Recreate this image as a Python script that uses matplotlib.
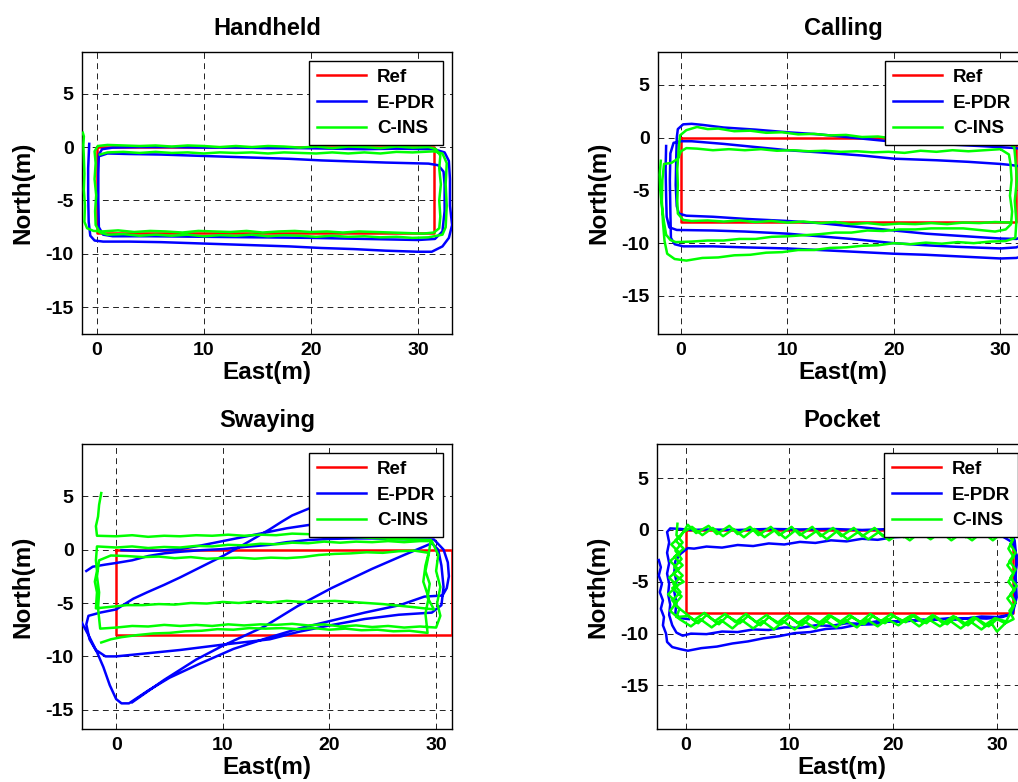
import numpy as np
import matplotlib.pyplot as plt

plt.rcParams['font.family'] = ['Liberation Sans', 'DejaVu Sans']
plt.rcParams['font.weight'] = 'bold'
plt.rcParams['axes.unicode_minus'] = False

# Trayectoria de referencia (rectangulo del pasillo)
ref_x = [0, 31.5, 31.5, 0, 0]
ref_y = [0, 0, -8, -8, 0]

titles = ['Handheld', 'Calling', 'Swaying', 'Pocket']
labels = ['Ref', 'E-PDR', 'C-INS']

# ---- Handheld ----
hand_pdr = [
    (-0.7, 0.3), (-0.8, -2.0), (-0.8, -4.5), (-0.75, -7.0), (-0.6, -8.3), (-0.2, -8.75), (0.6, -8.85),
    (3, -8.85), (6, -8.9), (9, -9.0), (12, -9.1), (15, -9.2), (18, -9.3), (21, -9.45), (24, -9.55),
    (27, -9.7), (30, -9.8), (31.3, -9.8), (32.3, -9.3), (32.9, -8.5), (33.2, -7.3), (33.0, -5.5),
    (33.0, -3.0), (32.9, -1.3), (32.5, -0.5), (31.5, -0.2), (28, -0.15), (25, -0.2), (22, -0.15),
    (19, -0.1), (16, -0.1), (13, -0.05), (10, -0.05), (7, 0.0), (4, 0.0), (1.5, -0.05), (0.5, -0.2),
    (0.2, -0.7), (0.15, -2.5), (0.15, -5.0), (0.2, -7.5), (0.6, -8.2), (1.5, -8.35), (5, -8.35),
    (10, -8.4), (15, -8.45), (20, -8.5), (25, -8.6), (30, -8.7), (31.6, -8.6), (32.3, -7.9),
    (32.5, -6.0), (32.5, -3.5), (32.4, -2.3), (31.9, -1.7), (31.0, -1.55), (27, -1.45), (24, -1.35),
    (21, -1.25), (18, -1.1), (15, -1.0), (12, -0.9), (9, -0.8), (6, -0.7), (3, -0.65), (1.0, -0.6),
    (0.4, -0.8),
]
hand_ins = [
    (-1.3, 1.35), (-1.2, 1.0), (-1.25, 0.2), (-1.2, -1.0), (-1.15, -2.5), (-1.2, -4.0), (-1.1, -5.5),
    (-1.15, -7.0), (-0.9, -7.6), (-0.3, -7.85), (0.5, -7.9), (2, -7.8), (3.5, -7.95), (5, -7.85),
    (6.5, -7.9), (8, -8.0), (9.5, -7.85), (11, -7.9), (12.5, -7.95), (14, -7.85), (15.5, -8.0),
    (17, -7.9), (18.5, -7.85), (20, -7.95), (21.5, -7.9), (23, -8.0), (24.5, -7.9), (26, -7.95),
    (27.5, -8.0), (29, -8.05), (30.5, -8.1), (31.5, -8.0), (32.0, -7.6), (32.1, -6.5), (32.0, -5.0),
    (32.15, -3.5), (32.0, -2.0), (32.1, -0.8), (31.7, -0.2), (31.0, 0.0), (29.5, -0.05), (28, 0.05),
    (26.5, -0.1), (25, 0.0), (23.5, 0.05), (22, -0.1), (20.5, 0.05), (19, -0.05), (17.5, 0.05),
    (16, 0.1), (14.5, 0.0), (13, 0.1), (11.5, 0.0), (10, 0.1), (8.5, 0.15), (7, 0.05), (5.5, 0.15),
    (4, 0.1), (2.5, 0.15), (1, 0.2), (0.1, 0.1), (-0.2, -0.4), (-0.1, -1.5), (-0.2, -3.0),
    (-0.05, -4.5), (-0.15, -6.0), (-0.1, -7.3), (0.3, -8.0), (1, -8.2), (2.5, -8.15), (4, -8.3),
    (5.5, -8.2), (7, -8.3), (8.5, -8.2), (10, -8.35), (11.5, -8.25), (13, -8.3), (14.5, -8.2),
    (16, -8.35), (17.5, -8.25), (19, -8.3), (20.5, -8.4), (22, -8.3), (23.5, -8.4), (25, -8.35),
    (26.5, -8.45), (28, -8.4), (29.5, -8.5), (31, -8.45), (32.3, -8.2), (32.6, -7.5), (32.7, -5.5),
    (32.6, -3.5), (32.7, -1.5), (32.3, -0.6), (31.5, -0.4), (29.5, -0.5), (28, -0.45), (26.5, -0.6),
    (25, -0.5), (23.5, -0.6), (22, -0.5), (20.5, -0.6), (19, -0.55), (17.5, -0.5), (16, -0.6),
    (14.5, -0.5), (13, -0.55), (11.5, -0.5), (10, -0.6), (8.5, -0.5), (7, -0.55), (5.5, -0.45),
    (4, -0.55), (2.5, -0.45), (1, -0.5), (0.3, -0.7),
]

# ---- Calling ----
call_pdr = [
    (-1.4, -0.8), (-1.45, -3), (-1.4, -5.5), (-1.35, -7.5), (-1.1, -8.5), (-0.4, -8.75), (3, -8.8),
    (6, -8.9), (10, -9.1), (13, -9.35), (16, -9.6), (20, -10.0), (23, -10.2), (26, -10.35),
    (30, -10.5), (31.5, -10.4), (32.8, -9.8), (33.2, -8), (33.2, -3), (32.8, -1.3), (31.5, -1.0),
    (28, -0.8), (24, -0.6), (20, -0.4), (16, 0.0), (13, 0.3), (10, 0.5), (7, 0.75), (4, 0.95),
    (2, 1.2), (1, 1.3), (0.2, 1.25), (-0.3, 0.8), (-0.4, 0), (-0.45, -2), (-0.5, -4.5), (-0.4, -6.5),
    (-0.2, -7.2), (0.5, -7.4), (3, -7.5), (6, -7.7), (10, -7.9), (13, -8.1), (16, -8.4), (20, -8.8),
    (23, -9.1), (26, -9.3), (30, -9.56), (31.5, -9.6), (32.6, -9.2), (33.0, -7.5), (33.0, -4),
    (32.4, -2.8), (31, -2.6), (30, -2.5), (27, -2.3), (24, -2.15), (20, -2.0), (17, -1.7),
    (13, -1.4), (10, -1.2), (7, -0.9), (4, -0.6), (1, -0.35), (0, -0.35), (-0.7, -0.5), (-1.0, -1.5),
    (-1.05, -4), (-1.0, -7), (-0.95, -9.5), (-0.6, -10.1), (0.2, -10.3), (3, -10.3), (6, -10.4),
    (10, -10.5), (13, -10.65), (16, -10.8), (20, -11.0), (23, -11.1), (26, -11.25), (30, -11.45),
    (31.5, -11.4), (32.8, -11.0),
]
call_ins = [
    (-1.9, -2.2), (-2.0, -3.5), (-1.95, -5), (-1.8, -6.5), (-1.6, -8), (-1.4, -9.2), (-1.0, -9.7),
    (-0.5, -9.9), (1, -9.85), (2.5, -9.75), (4, -9.75), (5.5, -9.6), (7, -9.6), (8.5, -9.4),
    (10, -9.35), (11.5, -9.25), (13, -9.15), (14.5, -9.0), (16, -9.0), (17.5, -8.8), (19, -8.85),
    (20.5, -8.7), (22, -8.7), (23.5, -8.6), (25, -8.6), (26.5, -8.6), (28, -8.75), (29.5, -8.9),
    (30.5, -8.7), (31.0, -8.2), (31.1, -7), (30.9, -5.5), (31.05, -4), (30.95, -2.5), (30.8, -1.6),
    (30, -1.1), (28.5, -1.2), (27, -1.3), (25.5, -1.2), (24, -1.35), (22.5, -1.25), (21, -1.45),
    (19.5, -1.35), (18, -1.4), (16.5, -1.3), (15, -1.35), (13.5, -1.25), (12, -1.3), (10.5, -1.2),
    (9, -1.25), (7.5, -1.1), (6, -1.2), (4.5, -1.1), (3, -1.2), (1.5, -1.05), (0.5, -1.0),
    (0, -1.3), (-0.3, -2.0), (-0.9, -2.4), (-1.6, -2.5), (-1.75, -4), (-1.8, -6), (-1.7, -8),
    (-1.55, -9.8), (-1.3, -11), (-0.6, -11.5), (0.5, -11.65), (2, -11.4), (3.5, -11.35), (5, -11.15),
    (6.5, -11.1), (8, -10.9), (9.5, -10.85), (11, -10.65), (12.5, -10.65), (14, -10.45),
    (15.5, -10.4), (17, -10.25), (18.5, -10.2), (20, -10.0), (21.5, -10.1), (23, -9.95),
    (24.5, -10.05), (26, -9.9), (27.5, -10.0), (29, -9.85), (30.5, -9.8), (31.4, -9.5), (31.5, -8),
    (31.35, -6), (31.55, -4), (31.4, -2), (31.3, -0.9), (30.5, -0.4), (29, -0.35), (27.5, -0.2),
    (26, -0.25), (24.5, -0.05), (23, -0.15), (21.5, 0.0), (20, -0.1), (18.5, 0.1), (17, 0.05),
    (15.5, 0.25), (14, 0.2), (12.5, 0.35), (11, 0.3), (9.5, 0.5), (8, 0.45), (6.5, 0.65),
    (5, 0.6), (3.5, 0.85), (2.5, 0.8), (1.5, 1.0), (0.5, 0.7), (-0.1, 0.2), (-0.25, -1.5),
    (-0.35, -3), (-0.3, -4.5), (-0.35, -6), (-0.3, -7.2), (0.2, -7.8), (1, -7.9), (2.5, -7.85),
    (4, -7.95), (5.5, -7.85), (7, -8.0), (8.5, -7.9), (10, -8.05), (11.5, -7.95), (13, -8.1),
    (14.5, -8.0), (16, -8.2), (17.5, -8.1), (19, -8.25), (20.5, -8.15), (22, -8.2), (23.5, -8.1),
    (25, -8.2), (26.5, -8.05), (28, -8.1), (29.5, -8.0), (31, -8.05),
]

# ---- Swaying ----
sway_pdr = [
    (-2.8, -2.0), (-2.2, -1.6), (-1, -1.4), (0, -1.25), (1.5, -1.0), (3, -0.6), (4.5, -0.35),
    (6, -0.2), (8, -0.05), (10, 0.05), (12, 0.25), (14.4, 0.45), (16, 0.7), (18, 0.9), (20, 1.0),
    (22, 1.05), (24, 1.05), (26, 1.0), (28, 0.95), (29.8, 0.95), (30.7, 0.0), (31.1, -1.2),
    (31.2, -2.5), (31.0, -3.6), (30.6, -4.3), (28.9, -4.4), (26.6, -5.2), (23.3, -5.9), (20, -6.7),
    (17.1, -7.4), (14.1, -8.3), (11, -9.3), (7.8, -10.7), (5, -12.0), (3, -13.2), (1.8, -14.0),
    (1.2, -14.4), (0.5, -14.4), (0, -14.0), (-0.6, -12.7), (-1.2, -11.0), (-1.8, -9.6),
    (-2.5, -8.4), (-2.8, -7.0), (-2.6, -6.2), (-1.5, -5.9), (0, -5.6), (1.6, -4.6), (2.9, -4.0),
    (4.5, -3.3), (6, -2.6), (8, -1.6), (10, -0.6), (12, 0.5), (14.4, 1.9), (15.5, 2.6), (16.5, 3.2),
    (18.2, 3.9), (19.5, 4.4), (21, 4.8), (22.5, 3.5), (21, 2.6), (18, 2.3), (16, 2.0), (14, 1.6),
    (12, 1.2), (10, 0.8), (8, 0.4), (6, 0.05), (4, -0.1), (2, -0.1), (0.5, -0.05),
    (np.nan, np.nan),
    (-3.3, -6.7), (-2.6, -8.0), (-1.9, -9.4), (-1.0, -10.0), (0, -10.0), (3, -9.7), (6, -9.4),
    (10, -8.9), (14.4, -8.4), (17.1, -7.7), (20, -7.1), (23.3, -6.5), (26.5, -6.1), (29.6, -5.9),
    (30.5, -5.2), (30.7, -3.5), (30.5, -1.5), (30.2, 0.0), (29.6, 0.6), (27, -0.5), (24, -1.8),
    (20.2, -3.6), (17, -5.3), (13.9, -7.2), (10, -9.0), (7.5, -10.3), (4.5, -12.2), (2.5, -13.6),
    (1.5, -14.3),
]
sway_ins = [
    (-1.4, 5.3), (-1.6, 4.2), (-1.7, 3.1), (-1.9, 2.2), (-1.8, 1.3), (0, 1.25), (1.5, 1.35),
    (3, 1.2), (4.5, 1.3), (6, 1.25), (7.5, 1.35), (9, 1.3), (10.5, 1.4), (12, 1.3), (13.5, 1.4),
    (15, 1.35), (16.5, 1.5), (18, 1.45), (20, 1.3), (22, 1.2), (24, 1.1), (26, 1.0), (28, 0.95),
    (29.5, 0.9), (29.3, -0.5), (29.0, -2.0), (29.4, -3.2), (29.2, -4.5), (29.8, -5.6), (28, -5.4),
    (26.5, -5.25), (25, -5.1), (23.5, -5.0), (22, -4.9), (20.5, -4.8), (19, -4.85), (17.5, -4.9),
    (16, -4.8), (14.5, -4.95), (13, -4.85), (11.5, -5.0), (10, -4.9), (8.5, -5.05), (7, -5.0),
    (5.5, -5.15), (4, -5.1), (2.5, -5.2), (1, -5.2), (0, -5.3), (-1.9, -5.5), (-1.8, -4.0),
    (-2.0, -3.0), (-1.8, -2.0), (-1.9, -1.0), (-1.8, 0.3), (0, 0.2), (1.5, 0.3), (3, 0.15),
    (4.5, 0.25), (6, 0.2), (7.5, 0.35), (9, 0.3), (10.5, 0.45), (12, 0.4), (13.5, 0.55),
    (15, 0.5), (16.5, 0.65), (18, 0.6), (19.5, 0.75), (21, 0.65), (22.5, 0.75), (24, 0.7),
    (25.5, 0.8), (27, 0.7), (28.5, 0.8), (29.6, 0.8), (30.2, -0.5), (30.0, -2.0), (30.4, -3.5),
    (30.1, -5.0), (30.4, -6.2), (30.0, -7.3), (28.5, -7.2), (27, -7.3), (25.5, -7.15),
    (24, -7.25), (22.5, -7.1), (21, -7.2), (19.5, -7.0), (18, -7.1), (16.5, -6.95), (15, -7.05),
    (13.5, -7.0), (12, -7.1), (10.5, -7.0), (9, -7.15), (7.5, -7.05), (6, -7.15), (4.5, -7.05),
    (3, -7.2), (1.5, -7.15), (0, -7.3), (-1.5, -7.4), (-1.7, -5.5), (-1.6, -4.0), (-1.8, -2.5),
    (-1.6, -1.0), (-0.5, -0.55), (1, -0.6), (2.5, -0.7), (4, -0.65), (5.5, -0.8), (7, -0.7),
    (8.5, -0.85), (10, -0.8), (11.5, -0.75), (13, -0.85), (14.5, -0.75), (16, -0.8), (17.5, -0.7),
    (19, -0.5), (20.5, -0.4), (22, -0.35), (23.5, -0.25), (25, -0.3), (26.5, -0.15), (28, -0.1),
    (29.3, -0.3), (29.0, -1.5), (28.8, -3.0), (29.3, -4.5), (29.0, -6.0), (29.2, -7.8),
    (27.5, -7.6), (26, -7.65), (24.5, -7.5), (23, -7.55), (21.5, -7.4), (20, -7.5), (18.5, -7.35),
    (17, -7.45), (15.5, -7.35), (14, -7.4), (12.5, -7.35), (11, -7.5), (9.5, -7.45), (8, -7.6),
    (6.5, -7.65), (5, -7.8), (3.5, -7.85), (2, -8.0), (0.5, -8.2), (-0.5, -8.4), (-1.4, -8.7),
]

# ---- Pocket ----
pock_pdr = [
    (-2.6, -2.9), (-2.4, -3.6), (-2.6, -4.4), (-2.3, -5.2), (-2.5, -6.0), (-2.2, -6.8),
    (-2.4, -7.6), (-2.1, -8.4), (-2.2, -9.2), (-1.9, -10.0), (-1.8, -10.8), (-1.3, -11.3),
    (-0.5, -11.5), (0.2, -11.65), (1.5, -11.4), (3, -11.25), (4.5, -10.95), (6, -10.75),
    (7.5, -10.45), (9, -10.25), (10.5, -9.95), (12, -9.85), (13.5, -9.55), (15, -9.45),
    (16.5, -9.15), (18, -9.1), (19.5, -8.85), (21, -8.85), (22.5, -8.65), (24, -8.65),
    (25.5, -8.5), (27, -8.55), (28.5, -8.35), (30, -8.4), (31.2, -8.2), (31.8, -7.0), (31.7, -5.0),
    (31.9, -3.0), (31.7, -1.0), (31.3, -0.2), (29, 0.05), (26, 0.1), (23, 0.0), (20, 0.1), (17, 0.0),
    (14, 0.1), (11, 0.05), (8, 0.1), (5, 0.0), (2, 0.05), (0.5, 0.0), (-0.5, 0.1), (-1.5, 0.15),
    (-1.8, -0.2), (-1.6, -1.2), (-1.8, -2.2), (-1.6, -3.2), (-1.8, -4.2), (-1.6, -5.2),
    (-1.7, -6.2), (-1.5, -7.2), (-1.6, -8.2), (-1.3, -9.2), (-0.9, -9.9), (-0.3, -10.2),
    (0.5, -10.0), (2, -10.05), (3.5, -9.8), (5, -9.85), (6.5, -9.6), (8, -9.65), (9.5, -9.4),
    (11, -9.45), (12.5, -9.2), (14, -9.25), (15.5, -9.0), (17, -9.05), (18.5, -8.8), (20, -8.85),
    (21.5, -8.7), (23, -8.75), (24.5, -8.6), (26, -8.65), (27.5, -8.5), (29, -8.55), (30.5, -8.4),
    (31.5, -8.1), (31.9, -6.5), (31.8, -4.5), (31.9, -2.5), (31.5, -1.2), (30.5, -0.6),
    (28, -0.45), (25, -0.55), (22, -0.6), (20, -0.7), (18.5, -0.95), (17, -0.85), (15.5, -1.1),
    (14, -1.0), (12.5, -1.25), (11, -1.15), (9.5, -1.4), (8, -1.3), (6.5, -1.55), (5, -1.45),
    (3.5, -1.7), (2, -1.6), (0.8, -1.8), (0.2, -1.75), (-0.5, -2.3), (-1.0, -3.0), (-1.1, -4.0),
    (-0.9, -5.0), (-1.1, -6.0), (-0.9, -7.0), (-1.0, -8.0), (-0.6, -8.5), (0.3, -8.6),
]
pock_ins = [
    (-0.8, 0.6), (-0.9, -0.5), (-0.3, -1.2), (-1.0, -2.0), (-0.4, -2.8), (-1.1, -3.6), (-0.3, -4.4),
    (-1.2, -5.2), (-0.5, -6.0), (-1.3, -6.8), (-0.6, -7.6), (-0.9, -8.4), (0.2, -8.3), (1.2, -9.0),
    (2.0, -8.2), (3.2, -9.1), (4.0, -8.3), (5.2, -9.0), (6.0, -8.3), (7.2, -9.2), (8.0, -8.4),
    (9.2, -9.1), (10.0, -8.4), (11.2, -9.2), (12.0, -8.4), (13.2, -9.1), (14.0, -8.3), (15.2, -9.0),
    (16.0, -8.4), (17.2, -9.1), (18.0, -8.3), (19.2, -9.0), (20.0, -8.3), (21.2, -8.9), (22.0, -8.2),
    (23.2, -9.0), (24.0, -8.3), (25.2, -9.1), (26.0, -8.4), (27.2, -9.2), (28.0, -8.5), (29.2, -9.3),
    (30.0, -8.6), (30.8, -9.0), (31.2, -8.2), (31.6, -7.4), (31.0, -6.6), (31.7, -5.8), (31.1, -5.0),
    (31.6, -4.2), (31.0, -3.4), (31.6, -2.6), (31.1, -1.8), (31.5, -1.0), (31.0, -0.3), (30.2, 0.2),
    (29.0, -0.6), (28.2, 0.1), (27.0, -0.7), (26.2, 0.1), (25.0, -0.6), (24.2, 0.2), (23.0, -0.6),
    (22.2, 0.1), (21.0, -0.7), (20.2, 0.1), (19.0, -0.6), (18.2, 0.2), (17.0, -0.6), (16.2, 0.2),
    (15.0, -0.6), (14.2, 0.2), (13.0, -0.6), (12.2, 0.3), (11.0, -0.5), (10.2, 0.3), (9.0, -0.5),
    (8.2, 0.3), (7.0, -0.5), (6.2, 0.3), (5.0, -0.4), (4.2, 0.4), (3.0, -0.4), (2.2, 0.4),
    (1.0, -0.3), (0.2, 0.5), (-0.5, -0.6), (-1.4, -1.4), (-0.6, -2.2), (-1.5, -3.0), (-0.7, -3.8),
    (-1.6, -4.6), (-0.8, -5.4), (-1.7, -6.2), (-0.9, -7.0), (-1.5, -7.8), (-0.6, -8.6), (0.5, -9.3),
    (1.4, -8.6), (2.5, -9.4), (3.4, -8.7), (4.5, -9.5), (5.4, -8.7), (6.5, -9.5), (7.4, -8.8),
    (8.5, -9.6), (9.4, -8.8), (10.5, -9.6), (11.4, -8.8), (12.5, -9.5), (13.4, -8.7), (14.5, -9.4),
    (15.4, -8.7), (16.5, -9.4), (17.4, -8.6), (18.5, -9.3), (19.4, -8.6), (20.5, -9.2), (21.4, -8.5),
    (22.5, -9.3), (23.4, -8.6), (24.5, -9.3), (25.4, -8.7), (26.5, -9.5), (27.4, -8.8), (28.5, -9.6),
    (29.4, -8.9), (30.0, -9.8), (30.8, -9.0), (31.6, -8.6), (31.2, -7.8), (31.8, -7.0), (31.3, -6.2),
    (31.9, -5.4), (31.3, -4.6), (31.8, -3.8), (31.2, -3.0), (31.8, -2.2), (31.3, -1.4), (31.6, -0.6),
    (30.6, -0.2), (29.6, -1.0), (28.6, -0.2), (27.6, -1.0), (26.6, -0.3), (25.6, -1.0), (24.6, -0.2),
    (23.6, -0.9), (22.6, -0.2), (21.6, -1.0), (20.6, -0.3), (19.6, -1.0), (18.6, -0.2), (17.6, -0.9),
    (16.6, -0.2), (15.6, -0.9), (14.6, -0.1), (13.6, -0.9), (12.6, -0.1), (11.6, -0.8), (10.6, 0.0),
    (9.6, -0.8), (8.6, 0.0), (7.6, -0.7), (6.6, 0.1), (5.6, -0.7), (4.6, 0.1), (3.6, -0.6),
    (2.6, 0.2), (1.6, -0.5), (0.6, 0.3), (-0.2, -0.2), (-1.0, -1.0), (-0.2, -1.8), (-1.1, -2.6),
    (-0.3, -3.4), (-1.2, -4.2), (-0.2, -5.0), (-1.3, -5.6), (-0.4, -6.4), (-1.1, -7.2), (-0.2, -7.9),
    (0.8, -8.7), (1.8, -8.0), (2.8, -8.8), (3.8, -8.1), (4.8, -8.9), (5.8, -8.1), (6.8, -8.9),
    (7.8, -8.2), (8.8, -9.0), (9.8, -8.2), (10.8, -9.0), (11.8, -8.3), (12.8, -9.0), (13.8, -8.2),
    (14.8, -8.9), (15.8, -8.2), (16.8, -8.9), (17.8, -8.1), (18.8, -8.8), (19.8, -8.1), (20.8, -8.8),
    (21.8, -8.2), (22.8, -8.9), (23.8, -8.2), (24.8, -9.0), (25.8, -8.3), (26.8, -9.1), (27.8, -8.4),
    (28.8, -9.2), (29.8, -8.5), (30.8, -8.8),
]

# Limites de ejes
xlims = [(-1.37, 33.2), (-2.16, 32.6), (-3.2, 31.5), (-2.77, 32.9)]
ylims = [(-17.5, 8.9), (-18.6, 8.1), (-16.8, 9.9), (-19.2, 8.3)]
# posiciones [izq, abajo, ancho, alto] en fraccion de figura
posiciones = [
    [0.0806, 0.5729, 0.3635, 0.3606],
    [0.6464, 0.5729, 0.3635, 0.3606],
    [0.0806, 0.0678, 0.3635, 0.3645],
    [0.6454, 0.0678, 0.3635, 0.3645],
]
datos = [(hand_pdr, hand_ins), (call_pdr, call_ins), (sway_pdr, sway_ins), (pock_pdr, pock_ins)]

fig = plt.figure(figsize=(10.18, 7.82), dpi=100)

for i in range(4):
    ax = fig.add_axes(posiciones[i])
    pdr = np.array(datos[i][0], dtype=float)
    ins = np.array(datos[i][1], dtype=float)
    ax.plot(ref_x, ref_y, color='#ff0000', lw=1.8, label=labels[0], zorder=3)
    ax.plot(pdr[:, 0], pdr[:, 1], color='#0000ff', lw=1.8, label=labels[1], zorder=4)
    ax.plot(ins[:, 0], ins[:, 1], color='#00ff00', lw=1.8, label=labels[2], zorder=5)

    ax.set_xlim(xlims[i])
    ax.set_ylim(ylims[i])
    ax.set_xticks([0, 10, 20, 30])
    ax.set_yticks([-15, -10, -5, 0, 5])
    ax.grid(True, color='#222222', linestyle=(0, (6, 4.5)), linewidth=0.7)
    ax.tick_params(direction='in', length=0, labelsize=14, pad=6)
    for lab in ax.get_xticklabels() + ax.get_yticklabels():
        lab.set_fontweight('bold')
    for sp in ax.spines.values():
        sp.set_linewidth(1.0)

    ax.set_title(titles[i], fontsize=17, fontweight='bold', pad=12)
    ax.set_xlabel('East(m)', fontsize=17.5, fontweight='bold', labelpad=1)
    ax.set_ylabel('North(m)', fontsize=17.5, fontweight='bold', labelpad=8)

    leg = ax.legend(loc='upper right', prop={'size': 13.5, 'weight': 'bold'}, fancybox=False,
                    framealpha=1, edgecolor='black', borderpad=0.4, handlelength=2.6,
                    handletextpad=0.6, labelspacing=0.45, borderaxespad=0.5)
    leg.get_frame().set_linewidth(1.0)
    leg.set_zorder(10)

fig.savefig('out.png', dpi=100)
